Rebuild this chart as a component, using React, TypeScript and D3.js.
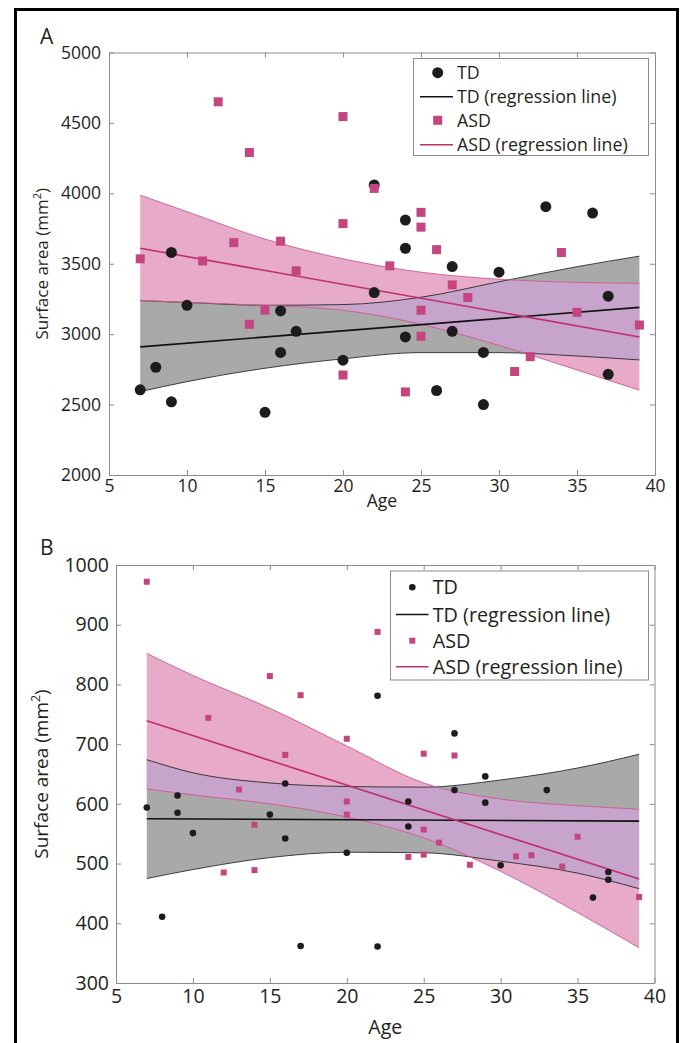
import React from 'react';
import * as d3 from 'd3';

// ---- data ----
// panel A
const tdAgeA = [7, 8, 9, 9, 10, 15, 16, 16, 17, 20, 22, 22, 24, 24, 24, 26, 27, 27, 29, 29, 30, 33, 36, 37, 37];
const tdAreaA = [2605, 2765, 3580, 2520, 3205, 2445, 3165, 2870, 3020, 2815, 4060, 3295, 3810, 3610, 2980, 2600, 3480, 3020, 2870, 2500, 3440, 3905, 3860, 3270, 2715];
const asdAgeA = [7, 11, 12, 13, 14, 14, 15, 16, 17, 20, 20, 20, 22, 23, 24, 25, 25, 25, 25, 26, 27, 28, 31, 32, 34, 35, 39];
const asdAreaA = [3535, 3520, 4650, 3650, 4290, 3070, 3170, 3660, 3450, 4545, 3785, 2710, 4035, 3485, 2590, 3865, 3760, 3170, 2985, 3600, 3350, 3260, 2735, 2840, 3580, 3155, 3065];

// panel B
const tdAgeB = [7, 8, 9, 9, 10, 15, 16, 16, 17, 20, 22, 22, 24, 24, 27, 27, 29, 29, 30, 33, 36, 37, 37];
const tdAreaB = [594, 411, 614, 585, 551, 582, 634, 542, 362, 518, 781, 361, 604, 562, 718, 623, 646, 602, 497, 623, 443, 486, 473];
const asdAgeB = [7, 11, 12, 13, 14, 14, 15, 16, 17, 20, 20, 20, 22, 24, 25, 25, 25, 26, 27, 28, 31, 32, 34, 35, 39];
const asdAreaB = [972, 744, 485, 624, 565, 489, 814, 682, 782, 709, 604, 582, 888, 511, 684, 557, 515, 535, 681, 498, 512, 514, 495, 545, 444];

// regression lines (end points) and confidence bands
const fitAges = [7, 39];
const bandAges = [7, 10, 15, 20, 25, 30, 35, 39];

const tdFitA = [2910, 3190];
const tdUpperA = [3238, 3225, 3205, 3210, 3262, 3372, 3479, 3554];
const tdLowerA = [2592, 2663, 2758, 2825, 2869, 2869, 2845, 2817];
const asdFitA = [3610, 2980];
const asdUpperA = [3987, 3870, 3675, 3535, 3440, 3390, 3368, 3361];
const asdLowerA = [3240, 3225, 3205, 3170, 3070, 2920, 2746, 2602];

const tdFitB = [575, 571];
const tdUpperB = [674, 652, 635, 629, 628, 640, 660, 683];
const tdLowerB = [475, 490, 510, 519, 518, 504, 484, 458];
const asdFitB = [739, 474];
const asdUpperB = [852, 815, 760, 697, 635, 608, 597, 591];
const asdLowerB = [625, 615, 600, 578, 543, 487, 418, 359];

const xTicks = [5, 10, 15, 20, 25, 30, 35, 40];
const yTicksA = [2000, 2500, 3000, 3500, 4000, 4500, 5000];
const yTicksB = [300, 400, 500, 600, 700, 800, 900, 1000];
const legendLabels = ['TD', 'TD (regression line)', 'ASD', 'ASD (regression line)'];

// ---- styles ----
const FONT = '"Open Sans", "DejaVu Sans", sans-serif';
const AXIS_COLOR = '#8c8c8c';
const TEXT_COLOR = '#231f20';
const DOT = '#1c1c1c';
const SQUARE = '#c4457f';
const PINK_LINE = '#bf2f6f';
const PINK_EDGE = '#c95a8e';
const PINK_FILL = '#e7aac8';
const GRAY_FILL = '#a9a9a9';
const LAV_FILL = '#c6a4cc';

const plain = d => String(d);

const Axis = ({ x, y, axis, size }) => (
    <g transform={`translate(${x}, ${y})`} ref={node => {
        if (!node) return;
        const g = d3.select(node);
        g.call(axis);
        g.attr('font-family', FONT).attr('font-size', size);
        g.select('.domain').attr('stroke', AXIS_COLOR);
        g.selectAll('.tick line').attr('stroke', AXIS_COLOR);
        g.selectAll('.tick text').attr('fill', TEXT_COLOR);
    }} />
);

function Panel({ id, letter, box, yDomain, yTicks, data, style, legend }) {
    const xs = d3.scaleLinear().domain([5, 40]).range([box.left, box.right]);
    const ys = d3.scaleLinear().domain(yDomain).range([box.bottom, box.top]);

    const area = (lo, hi) => d3.area().x((_, i) => xs(bandAges[i])).y0((_, i) => ys(lo[i])).y1((_, i) => ys(hi[i])).curve(d3.curveMonotoneX)(bandAges);
    const edge = vals => d3.line().x((_, i) => xs(bandAges[i])).y((_, i) => ys(vals[i])).curve(d3.curveMonotoneX)(bandAges);
    const fit = vals => d3.line().x((_, i) => xs(fitAges[i])).y((_, i) => ys(vals[i]))(fitAges);

    const tdBand = area(data.tdLower, data.tdUpper);
    const asdBand = area(data.asdLower, data.asdUpper);

    const ts = -5;
    const xAxis = d3.axisBottom(xs).tickValues(xTicks).tickFormat(plain).tickSizeInner(ts).tickSizeOuter(0).tickPadding(style.xPad);
    const xTop = d3.axisTop(xs).tickValues(xTicks).tickSizeInner(ts).tickSizeOuter(0).tickFormat(() => '');
    const yAxis = d3.axisLeft(ys).tickValues(yTicks).tickFormat(plain).tickSizeInner(ts).tickSizeOuter(0).tickPadding(style.yPad);
    const yRight = d3.axisRight(ys).tickValues(yTicks).tickSizeInner(ts).tickSizeOuter(0).tickFormat(() => '');

    const midY = (box.top + box.bottom) / 2;
    const lg = legend;
    const half = style.sq / 2;

    return (
        <g>
            <defs>
                <clipPath id={`td-clip-${id}`}><path d={tdBand} /></clipPath>
            </defs>
            <path d={tdBand} fill={GRAY_FILL} />
            <path d={asdBand} fill={PINK_FILL} />
            <path d={asdBand} fill={LAV_FILL} clipPath={`url(#td-clip-${id})`} />
            <path d={edge(data.tdUpper)} fill="none" stroke="#2a2a2a" strokeWidth={0.9} />
            <path d={edge(data.tdLower)} fill="none" stroke="#2a2a2a" strokeWidth={0.9} />
            <path d={edge(data.asdUpper)} fill="none" stroke={PINK_EDGE} strokeWidth={0.9} />
            <path d={edge(data.asdLower)} fill="none" stroke={PINK_EDGE} strokeWidth={0.9} />
            <path d={fit(data.tdFit)} fill="none" stroke="#111" strokeWidth={1.6} />
            <path d={fit(data.asdFit)} fill="none" stroke={PINK_LINE} strokeWidth={1.6} />

            <Axis x={0} y={box.bottom} axis={xAxis} size={style.tick} />
            <Axis x={0} y={box.top} axis={xTop} size={style.tick} />
            <Axis x={box.left} y={0} axis={yAxis} size={style.tick} />
            <Axis x={box.right} y={0} axis={yRight} size={style.tick} />

            {data.tdAge.map((a, i) => (
                <circle key={`td${i}`} cx={xs(a)} cy={ys(data.tdArea[i])} r={style.r} fill={DOT} />
            ))}
            {data.asdAge.map((a, i) => (
                <rect key={`asd${i}`} x={xs(a) - half} y={ys(data.asdArea[i]) - half} width={style.sq} height={style.sq} fill={SQUARE} />
            ))}

            <g fontFamily={FONT} fontSize={lg.font} fill={TEXT_COLOR}>
                <rect x={lg.x} y={lg.y} width={lg.w} height={lg.h} fill="#fff" stroke={AXIS_COLOR} strokeWidth={1} />
                <circle cx={lg.mx} cy={lg.rows[0]} r={style.r} fill={DOT} />
                <line x1={lg.lx0} x2={lg.lx1} y1={lg.rows[1]} y2={lg.rows[1]} stroke="#111" strokeWidth={1.6} />
                <rect x={lg.mx - half} y={lg.rows[2] - half} width={style.sq} height={style.sq} fill={SQUARE} />
                <line x1={lg.lx0} x2={lg.lx1} y1={lg.rows[3]} y2={lg.rows[3]} stroke={PINK_LINE} strokeWidth={1.6} />
                {legendLabels.map((t, i) => (
                    <text key={t} x={lg.tx} y={lg.rows[i]} dy="0.36em">{t}</text>
                ))}
            </g>

            <g fontFamily={FONT} fill={TEXT_COLOR}>
                <text x={(box.left + box.right) / 2} y={style.ageY} textAnchor="middle" fontSize={style.tick}>Age</text>
                <text transform={`translate(${style.labelX}, ${midY}) rotate(-90)`} textAnchor="middle" fontSize={style.label}>
                    Surface area (mm<tspan dy={-style.label * 0.4} fontSize={style.label * 0.65}>2</tspan><tspan dy={style.label * 0.4}>)</tspan>
                </text>
                <text x={style.letterX} y={style.letterY} fontSize={style.letter}>{letter}</text>
            </g>
        </g>
    );
}

export default function App() {
    const dataA = {
        tdAge: tdAgeA, tdArea: tdAreaA, asdAge: asdAgeA, asdArea: asdAreaA,
        tdFit: tdFitA, tdUpper: tdUpperA, tdLower: tdLowerA,
        asdFit: asdFitA, asdUpper: asdUpperA, asdLower: asdLowerA,
    };
    const dataB = {
        tdAge: tdAgeB, tdArea: tdAreaB, asdAge: asdAgeB, asdArea: asdAreaB,
        tdFit: tdFitB, tdUpper: tdUpperB, tdLower: tdLowerB,
        asdFit: asdFitB, asdUpper: asdUpperB, asdLower: asdLowerB,
    };
    return (
        <svg width={685} height={1043} style={{ position: 'absolute', left: 0, top: 0, background: '#fff' }}>
            <rect x={15.5} y={9.5} width={662} height={1060} fill="none" stroke="#000" strokeWidth={3} />
            <Panel id="A" letter="A" box={{ left: 109, right: 655, top: 52.5, bottom: 475 }}
                yDomain={[2000, 5000]} yTicks={yTicksA} data={dataA}
                style={{ tick: 17.5, label: 17, letter: 21, r: 5.5, sq: 9, xPad: 5, yPad: 8, ageY: 507, labelX: 48, letterX: 40, letterY: 44 }}
                legend={{ x: 413.5, y: 58.5, w: 235, h: 97, font: 17.8, mx: 437.7, lx0: 420, lx1: 453, tx: 457, rows: [72.7, 96.7, 120.3, 144.7] }} />
            <Panel id="B" letter="B" box={{ left: 116, right: 654.5, top: 565, bottom: 983 }}
                yDomain={[300, 1000]} yTicks={yTicksB} data={dataB}
                style={{ tick: 19.5, label: 19, letter: 21, r: 3.3, sq: 6, xPad: 6, yPad: 7, ageY: 1034, labelX: 48, letterX: 40, letterY: 555 }}
                legend={{ x: 390.5, y: 571, w: 258, h: 109, font: 19.8, mx: 412.3, lx0: 396, lx1: 428.5, tx: 432.7, rows: [587.3, 614.5, 640.7, 666.7] }} />
        </svg>
    );
}
